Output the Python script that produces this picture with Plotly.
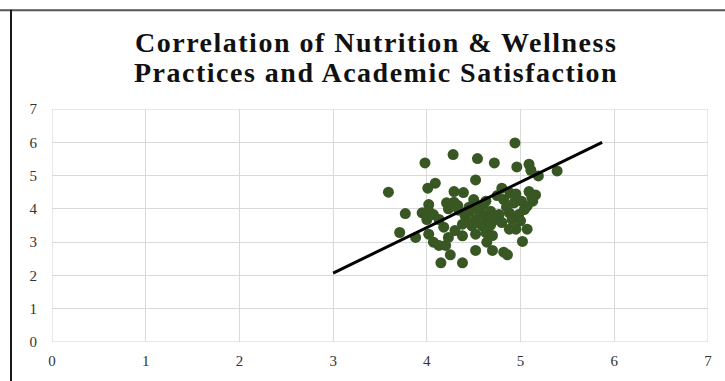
import plotly.graph_objects as go

title_lines = ["Correlation of Nutrition & Wellness",
               "Practices and Academic Satisfaction"]

nutrition_x = [4.94, 4.28, 3.98, 4.54, 4.72, 4.96, 5.09, 5.11, 5.19, 5.39,
               4.52, 4.09, 4.01, 3.59, 4.29, 4.39, 4.80, 4.89, 5.09, 5.16,
               5.13, 4.02, 4.21, 4.29, 4.50, 4.63, 4.82, 4.93, 5.01, 5.07,
               3.77, 3.95, 4.02, 4.07, 4.23, 4.34, 4.46, 4.55, 4.68, 4.77,
               4.88, 4.98, 5.04, 4.00, 4.13, 4.41, 4.52, 4.63, 4.73, 4.91,
               5.00, 4.38, 4.48, 4.59, 4.68, 4.80, 4.88, 4.95, 5.07, 3.71,
               3.88, 4.02, 4.23, 4.38, 4.52, 4.63, 4.07, 4.13, 4.20, 4.64,
               5.02, 4.25, 4.52, 4.70, 4.82, 4.86, 4.15, 4.38, 4.33, 4.45,
               4.60, 4.75, 4.85, 5.12, 4.18, 4.42, 4.58, 4.95, 4.30, 4.70]
satisfaction_y = [5.98, 5.63, 5.38, 5.51, 5.38, 5.26, 5.34, 5.16, 4.99, 5.14,
                  4.87, 4.77, 4.62, 4.50, 4.52, 4.49, 4.62, 4.47, 4.52, 4.42,
                  4.23, 4.13, 4.18, 4.20, 4.28, 4.23, 4.28, 4.18, 4.23, 4.08,
                  3.86, 3.88, 3.93, 3.83, 4.00, 3.96, 3.93, 3.98, 3.93, 3.83,
                  3.88, 3.83, 3.98, 3.68, 3.68, 3.78, 3.68, 3.73, 3.68, 3.68,
                  3.64, 3.54, 3.49, 3.49, 3.51, 3.59, 3.39, 3.39, 3.39, 3.29,
                  3.14, 3.24, 3.14, 3.19, 3.24, 3.29, 3.00, 2.90, 2.90, 3.00,
                  3.02, 2.62, 2.75, 2.75, 2.70, 2.62, 2.38, 2.38, 4.10, 4.05,
                  4.12, 4.40, 4.05, 4.35, 3.45, 3.62, 3.85, 4.45, 3.35, 3.20]

trend_x = [3.0, 5.87]
trend_y = [2.07, 6.0]

tick_vals = [0, 1, 2, 3, 4, 5, 6, 7]
tick_text = ["0", "1", "2", "3", "4", "5", "6", "7"]

W, H = 725, 381
L, R, T, B = 52, 17, 109, 37
pw, ph = W - L - R, H - T - B

fig = go.Figure()
fig.add_trace(go.Scatter(
    x=nutrition_x, y=satisfaction_y, mode="markers",
    marker=dict(size=11, color="#385723", line=dict(width=0)),
    showlegend=False, cliponaxis=False))
fig.add_trace(go.Scatter(
    x=trend_x, y=trend_y, mode="lines",
    line=dict(color="#000000", width=3),
    showlegend=False))

axis_common = dict(
    range=[0, 7], tickvals=tick_vals, ticktext=tick_text,
    showgrid=True, gridcolor="#d9d9d9", gridwidth=1,
    zeroline=False, showline=False, ticks="",
    tickfont=dict(family="Liberation Serif", size=15, color="#333333"),
    fixedrange=True)

title_y_px = [42, 72]
annotations = []
for line, ypx in zip(title_lines, title_y_px):
    annotations.append(dict(
        text='<span style="letter-spacing:1.5px">' + line + '</span>',
        xref="paper", yref="paper",
        x=(376 - L) / pw, y=(H - B - ypx) / ph,
        xanchor="center", yanchor="middle", showarrow=False,
        font=dict(family="Liberation Serif", size=28, color="#111111", weight="bold")))

fig.update_layout(
    width=W, height=H,
    margin=dict(l=L, r=R, t=T, b=B),
    paper_bgcolor="white", plot_bgcolor="white",
    xaxis=dict(**axis_common, ticklabelstandoff=8),
    yaxis=dict(**axis_common, ticklabelstandoff=14),
    annotations=annotations,
    shapes=[
        dict(type="line", xref="paper", yref="paper",
             x0=(0 - L) / pw, x1=(W - L) / pw,
             y0=(H - B - 9.5) / ph, y1=(H - B - 9.5) / ph,
             line=dict(color="#555555", width=2)),
        dict(type="line", xref="paper", yref="paper",
             x0=(11 - L) / pw, x1=(11 - L) / pw,
             y0=(H - B - 9) / ph, y1=-B / ph - 0.01,
             line=dict(color="#1a1a1a", width=2)),
        dict(type="rect", xref="x", yref="y", x0=0, x1=7, y0=0, y1=7,
             line=dict(color="#d0d0d0", width=1), layer="below"),
    ],
)

fig.write_html("out.html", config={"displayModeBar": False},
               post_script="document.body.style.margin='0';")
